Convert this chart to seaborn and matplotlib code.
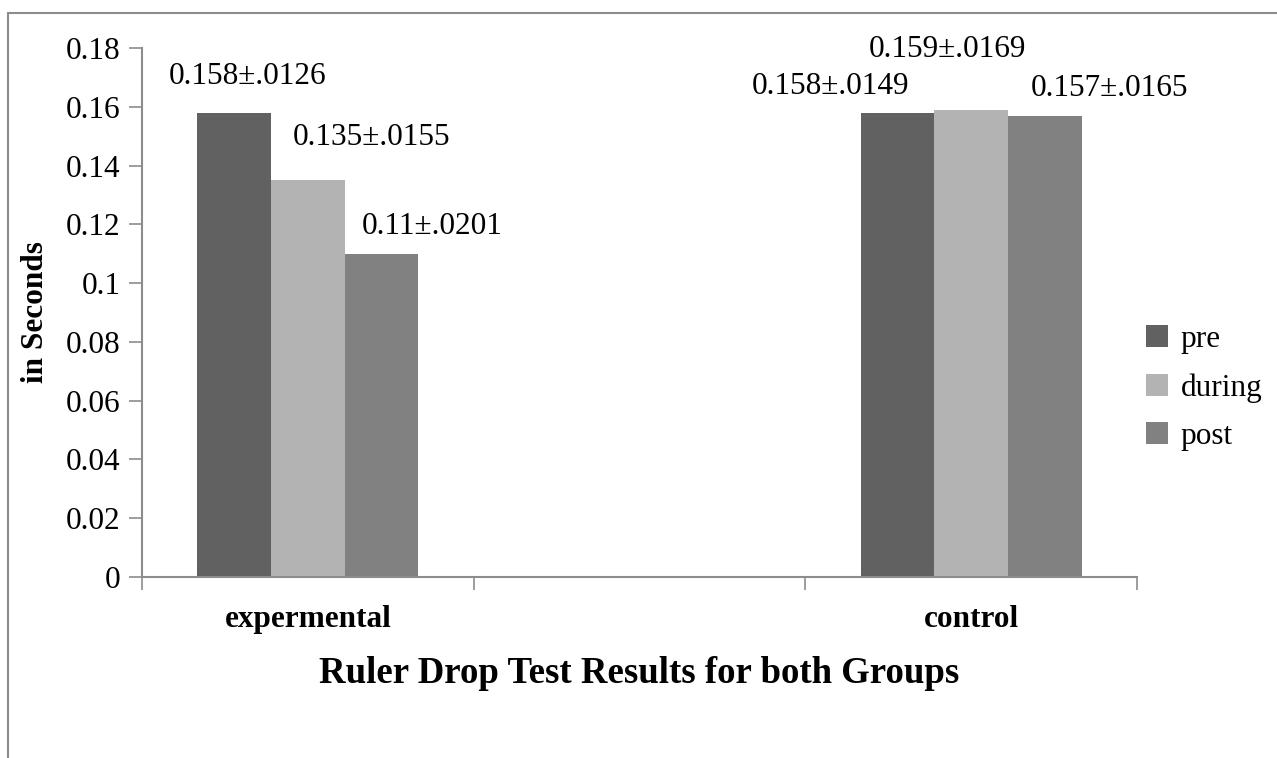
import matplotlib
matplotlib.use("Agg")
import matplotlib.pyplot as plt
from matplotlib.lines import Line2D
import seaborn as sns
import pandas as pd

# values
groups = ["expermental", "control"]
phases = ["pre", "during", "post"]
exp_means = [0.158, 0.135, 0.11]
exp_sd = [".0126", ".0155", ".0201"]
ctrl_means = [0.158, 0.159, 0.157]
ctrl_sd = [".0149", ".0169", ".0165"]
y_ticks = [0, 0.02, 0.04, 0.06, 0.08, 0.1, 0.12, 0.14, 0.16, 0.18]

# x order has an empty slot between the two groups (as in the original Excel chart)
x_order = ["expermental", " ", "control"]
colors = ["#616161", "#b3b3b3", "#818181"]

df = pd.DataFrame({
    "group": [groups[0]] * 3 + [groups[1]] * 3,
    "phase": phases * 2,
    "mean": exp_means + ctrl_means,
    "sd": exp_sd + ctrl_sd,
})

sns.set_theme(style="white", rc={"text.color": "black",
                                 "axes.labelcolor": "black",
                                 "xtick.color": "black",
                                 "ytick.color": "black"})
plt.rcParams["font.family"] = ["Liberation Serif", "DejaVu Serif"]

fig = plt.figure(figsize=(12.77, 7.58), dpi=100)
ax = fig.add_axes([142 / 1277, 1 - 577 / 758, 995 / 1277, 529 / 758])

sns.barplot(data=df, x="group", y="mean", hue="phase", order=x_order,
            hue_order=phases, palette=colors, width=0.667, gap=0,
            saturation=1, errorbar=None, linewidth=0, ax=ax)

# data labels (offsets in pixels from the top centre of each bar)
label_offsets = {
    ("expermental", "pre"): (13, 36),
    ("expermental", "during"): (64, 43),
    ("expermental", "post"): (51, 27),
    ("control", "pre"): (-67, 26),
    ("control", "during"): (-24, 60),
    ("control", "post"): (65, 27),
}
for phase, cont in zip(phases, ax.containers):
    for bar in cont:
        h = bar.get_height()
        if h != h or h == 0:
            continue
        xc = bar.get_x() + bar.get_width() / 2
        grp = "expermental" if xc < 1 else "control"
        row = df[(df["group"] == grp) & (df["phase"] == phase)].iloc[0]
        dx, dy = label_offsets[(grp, phase)]
        ax.annotate(f"{row['mean']:g}±{row['sd']}", (xc, h), xytext=(dx, dy),
                    textcoords="offset pixels", ha="center", va="center",
                    fontsize=22.5, color="black")

ax.set_xlim(-0.5, 2.5)
ax.set_ylim(0, 0.18)
ax.set_yticks(y_ticks)
ax.set_yticklabels([f"{v:g}" for v in y_ticks])

ax.set_xticks([0, 1, 2])
ax.set_xticklabels(x_order, fontweight="bold", fontsize=22.5)
ax.set_xticks([-0.5, 0.5, 1.5, 2.5], minor=True)

grey = "#8c8c8c"
for s in ["top", "right"]:
    ax.spines[s].set_visible(False)
for s in ["left", "bottom"]:
    ax.spines[s].set_color(grey)
    ax.spines[s].set_linewidth(1.5)

ax.tick_params(axis="y", left=True, length=9.4, width=1.2, color=grey,
               labelsize=22.5, pad=6, labelcolor="black")
ax.tick_params(axis="x", which="major", bottom=True, length=0, pad=20,
               labelcolor="black")
ax.tick_params(axis="x", which="minor", bottom=True, length=9.4, width=1.2,
               color=grey)

ax.set_ylabel("in Seconds", fontsize=22.5, fontweight="bold")
ax.yaxis.set_label_coords(-0.092, 0.5)
ax.set_xlabel("Ruler Drop Test Results for both Groups", fontsize=26.5,
              fontweight="bold")
ax.xaxis.set_label_coords(0.5, -0.15)

handles, labels = ax.get_legend_handles_labels()
ax.legend(handles, labels, loc="center left", bbox_to_anchor=(0.981, 0.357),
          frameon=False, fontsize=22.5, handlelength=0.7, handleheight=0.7,
          handletextpad=0.4, labelspacing=0.62)

# outer chart frame (left and top edges visible)
fx = 8 / 1277
fy = 1 - 13 / 758
fig.add_artist(Line2D([fx, fx], [0, fy], transform=fig.transFigure,
                      color=grey, lw=1.5))
fig.add_artist(Line2D([fx, 1], [fy, fy], transform=fig.transFigure,
                      color=grey, lw=1.5))

fig.savefig("out.png", dpi=100)
